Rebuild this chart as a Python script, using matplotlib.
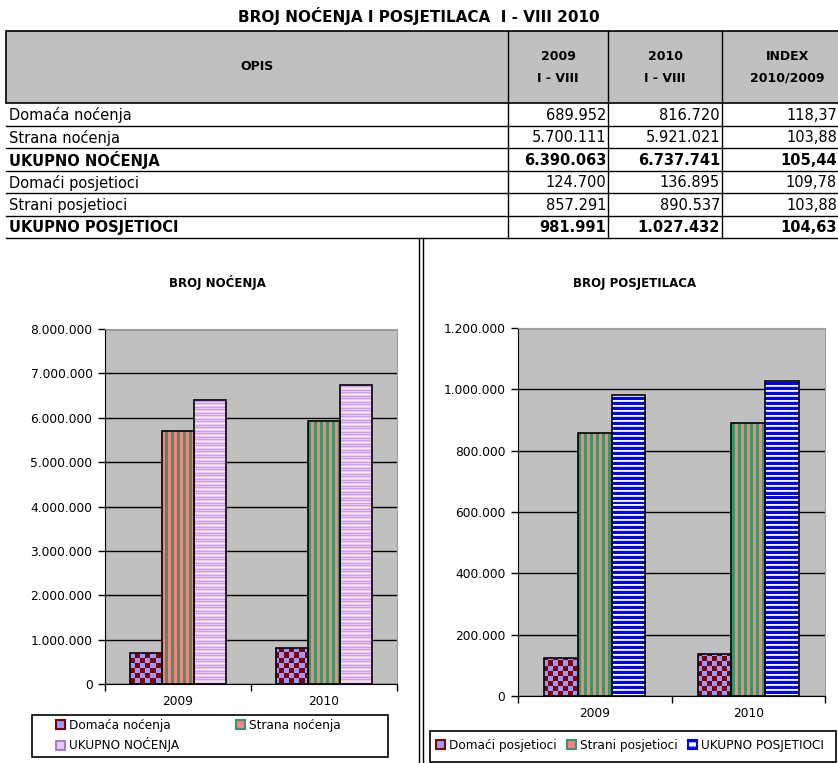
import numpy as np
import matplotlib
matplotlib.use("Agg")
import matplotlib.pyplot as plt
from matplotlib.patches import Patch, Rectangle
from matplotlib.colors import to_rgb

plt.rcParams['font.family'] = ['DejaVu Sans']

# ---- data ----
years = ['2009', '2010']
noc_domaca = [689952, 816720]
noc_strana = [5700111, 5921021]
noc_ukupno = [6390063, 6737741]
pos_domaci = [124700, 136895]
pos_strani = [857291, 890537]
pos_ukupno = [981991, 1027432]

row_labels = ['Domaća noćenja', 'Strana noćenja', 'UKUPNO NOĆENJA',
              'Domaći posjetioci', 'Strani posjetioci', 'UKUPNO POSJETIOCI']
row_bold = [False, False, True, False, False, True]
index_vals = ['118,37', '103,88', '105,44', '109,78', '103,88', '104,63']

W, H = 838, 763


def fmt(v):
    return f"{int(v):,}".replace(',', '.')


fig = plt.figure(figsize=(W / 100, H / 100), dpi=100)

# ---- table (drawn in pixel coords on an overlay axes) ----
tab = fig.add_axes([0, 0, 1, 1], zorder=0)
tab.set_xlim(0, W)
tab.set_ylim(H, 0)
tab.axis('off')

head_top, head_bot, row_h = 31, 103, 22.5
cols = [6, 508, 608, 722, 852]
tbl_bot = head_bot + 6 * row_h

tab.text(W / 2, 16, 'BROJ NOĆENJA I POSJETILACA  I - VIII 2010', ha='center', va='center',
         fontsize=11, fontweight='bold')
tab.add_patch(Rectangle((cols[0], head_top), cols[-1] - cols[0], head_bot - head_top,
                        facecolor='#C0C0C0', edgecolor='black', lw=1.2))
for c in cols[1:-1]:
    tab.plot([c, c], [head_top, tbl_bot], color='black', lw=1)
head_txt = ['OPIS', '2009\nI - VIII', '2010\nI - VIII', 'INDEX\n2010/2009']
for i, t in enumerate(head_txt):
    xc = (cols[i] + cols[i + 1]) / 2
    tab.text(xc, (head_top + head_bot) / 2, t, ha='center', va='center', fontsize=9,
             fontweight='bold', linespacing=1.9)

vals09 = [noc_domaca[0], noc_strana[0], noc_ukupno[0], pos_domaci[0], pos_strani[0], pos_ukupno[0]]
vals10 = [noc_domaca[1], noc_strana[1], noc_ukupno[1], pos_domaci[1], pos_strani[1], pos_ukupno[1]]
for r in range(6):
    y0 = head_bot + r * row_h
    yc = y0 + row_h / 2 + 1
    tab.plot([cols[0], W], [y0 + row_h, y0 + row_h], color='black', lw=1)
    fw = 'bold' if row_bold[r] else 'normal'
    tab.text(9, yc, row_labels[r], ha='left', va='center', fontsize=10.5, fontweight=fw)
    tab.text(cols[2] - 2, yc, fmt(vals09[r]), ha='right', va='center', fontsize=10.5, fontweight=fw)
    tab.text(cols[3] - 2, yc, fmt(vals10[r]), ha='right', va='center', fontsize=10.5, fontweight=fw)
    tab.text(W - 1, yc, index_vals[r], ha='right', va='center', fontsize=10.5, fontweight=fw)

# double separator between the two charts
tab.plot([419, 419], [tbl_bot, H], color='black', lw=1)
tab.plot([423, 423], [tbl_bot, H], color='black', lw=1)


# ---- pattern fills ----
def make_tile(rows, cell_w=1, cell_h=1):
    arr = np.array([[to_rgb(c) for c in row] for row in rows])
    arr = np.repeat(np.repeat(arr, cell_h, axis=0), cell_w, axis=1)
    return arr


def fill_bars(ax, bars, tile):
    w, h = int(ax.bbox.width) + 2, int(ax.bbox.height) + 2
    ny = h // tile.shape[0] + 1
    nx = w // tile.shape[1] + 1
    img = np.tile(tile, (ny, nx, 1))[:h, :w]
    xl, yl = ax.get_xlim(), ax.get_ylim()
    for b in bars:
        im = ax.imshow(img, extent=(xl[0], xl[1], yl[0], yl[1]), aspect='auto',
                       interpolation='nearest', zorder=2, origin='upper')
        im.set_clip_path(b)
    ax.set_xlim(xl)
    ax.set_ylim(yl)


checker = make_tile([['#9999FF', '#800000'], ['#800000', '#9999FF']], 5, 5)
vstripe = make_tile([['#339966', '#FF8080']], 3, 1)
lilac = make_tile([['#E8C8EC'], ['#CC99FF'], ['#E8C8EC'], ['#CC99FF'], ['#E8C8EC'], ['#F8F0C8']], 1, 1)
bluestripe = make_tile([['#0000FF'], ['#0000FF'], ['#0000FF'], ['#FFFFFF'], ['#D8D8F0']], 1, 1)


def bar_chart(rect, series, patterns, ymax, ystep, title, title_x):
    ax = fig.add_axes(rect, zorder=2)
    ax.set_facecolor('#C0C0C0')
    ax.set_xlim(0, 2)
    ax.set_ylim(0, ymax)
    ticks = np.arange(0, ymax + 1, ystep)
    ax.set_yticks(ticks)
    ax.set_yticklabels([fmt(v) for v in ticks], fontsize=8.8)
    ax.grid(axis='y', color='black', lw=1)
    ax.set_axisbelow(True)
    x = np.arange(len(years)) + 0.5
    bw = 0.22
    for i, (vals, pat) in enumerate(zip(series, patterns)):
        bars = ax.bar(x + (i - 1) * bw, vals, bw, facecolor='none', edgecolor='black', lw=1.2, zorder=3)
        fill_bars(ax, bars, pat)
    ax.set_xticks(x)
    ax.set_xticklabels(years, fontsize=8.8)
    ax.tick_params(axis='x', which='major', length=0, pad=8)
    ax.set_xticks([0, 1, 2], minor=True)
    ax.tick_params(axis='x', which='minor', length=5, width=1)
    ax.tick_params(axis='y', length=5, width=1, pad=4)
    for s in ['top', 'right']:
        ax.spines[s].set_color('#A0A0A0')
    fig.text(title_x / W, 1 - 283 / H, title, ha='center', va='center', fontsize=8.5, fontweight='bold')
    return ax


def legend_box(handles, labels, box, anchor, ncol, colsp):
    x0, y0, x1, y1 = box
    tab.add_patch(Rectangle((x0, y0), x1 - x0, y1 - y0, facecolor='white', edgecolor='black', lw=1.2))
    fig.legend(handles, labels, loc='upper left', bbox_to_anchor=(anchor[0] / W, 1 - anchor[1] / H),
               ncol=ncol, fontsize=8.7, frameon=False, handlelength=0.75, handleheight=0.75,
               handletextpad=0.3, borderaxespad=0, borderpad=0, labelspacing=0.45,
               columnspacing=colsp)


h_dom = Patch(facecolor='#9999FF', edgecolor='#800000', lw=1.5)
h_str = Patch(facecolor='#FF8080', edgecolor='#339966', lw=1.5)
h_ukn = Patch(facecolor='#E8C8EC', edgecolor='#9966CC', lw=1.2)
h_ukp = Patch(facecolor='#FFFFFF', edgecolor='#0000FF', lw=1.5, hatch='---')

bar_chart([105 / W, 1 - 684 / H, 292 / W, 355 / H],
          [noc_domaca, noc_strana, noc_ukupno], [checker, vstripe, lilac],
          8000000, 1000000, 'BROJ NOĆENJA', 217)
legend_box([h_dom, h_ukn, h_str], ['Domaća noćenja', 'UKUPNO NOĆENJA', 'Strana noćenja'],
           (32, 715, 388, 757), (56, 719), 2, 4.75)

bar_chart([518 / W, 1 - 696 / H, 307 / W, 368 / H],
          [pos_domaci, pos_strani, pos_ukupno], [checker, vstripe, bluestripe],
          1200000, 200000, 'BROJ POSJETILACA', 635)
legend_box([h_dom, h_str, h_ukp], ['Domaći posjetioci', 'Strani posjetioci', 'UKUPNO POSJETIOCI'],
           (430, 731, 836, 762), (436, 739), 3, 0.9)

fig.savefig('out.png', dpi=100)
